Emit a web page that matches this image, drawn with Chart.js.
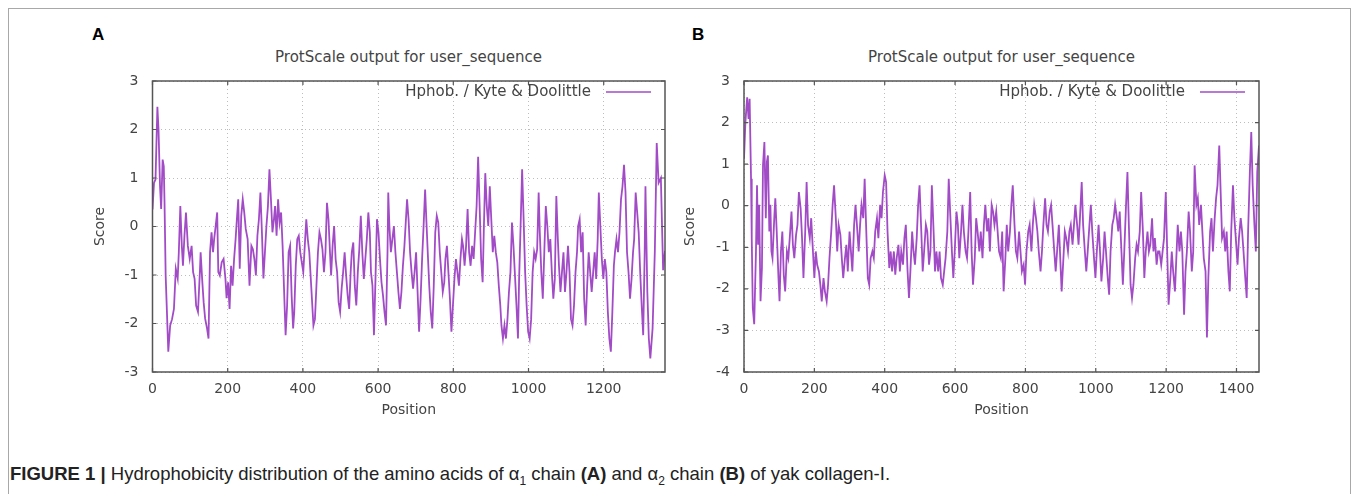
<!DOCTYPE html>
<html>
<head>
<meta charset="utf-8">
<script src="https://cdn.jsdelivr.net/npm/chart.js@4.4.0/dist/chart.umd.min.js"></script>
<style>
  body { margin: 0; background: #fff; width: 1357px; height: 494px; position: relative; overflow: hidden; }
  #frame { position: absolute; left: 8px; top: 8px; width: 1341px; height: 500px; border: 1px solid #a8a8a8; border-bottom: none; }
  .panel { position: absolute; top: 25px; font: bold 17px "Liberation Sans", Arial, sans-serif; color: #000; }
  .ttl { position: absolute; top: 48px; font: 15px "DejaVu Sans", sans-serif; color: #444; text-align: center; white-space: nowrap; }
  canvas { position: absolute; }
  #cap { position: absolute; left: 10px; top: 463px; font: 18.5px "Liberation Sans Narrow", "Liberation Sans", Arial, sans-serif; color: #222; white-space: nowrap; }
  #cap sub { font-size: 12px; }
</style>
</head>
<body>
<div id="frame"></div>
<div class="panel" style="left:92px">A</div>
<div class="panel" style="left:692px">B</div>
<div class="ttl" style="left:152px;width:513px">ProtScale output for user_sequence</div>
<div class="ttl" style="left:744px;width:515px">ProtScale output for user_sequence</div>
<canvas id="chartA" width="625" height="390" style="left:60px;top:40px"></canvas>
<canvas id="chartB" width="635" height="390" style="left:650px;top:40px"></canvas>
<div id="cap"><b>FIGURE 1 |</b> Hydrophobicity distribution of the amino acids of &alpha;<sub>1</sub> chain <b>(A)</b> and &alpha;<sub>2</sub> chain <b>(B)</b> of yak collagen-I.</div>

<script>
// panel A - alpha1 chain, position / score
var posA = [
  0, 4, 8, 13, 16, 20, 23, 27, 30, 32,
  35, 39, 42, 47, 52, 57, 62, 67, 70, 74,
  78, 81, 85, 89, 94, 99, 104, 108, 112, 116,
  121, 126, 128, 132, 136, 140, 145, 149, 153, 157,
  161, 164, 168, 172, 175, 179, 184, 189, 194, 197,
  201, 205, 209, 213, 217, 221, 225, 228, 232, 236,
  240, 244, 248, 253, 258, 263, 267, 271, 275, 279,
  283, 287, 291, 295, 299, 303, 307, 311, 315, 319,
  323, 326, 330, 334, 338, 342, 346, 351, 354, 358,
  362, 366, 370, 374, 377, 381, 385, 389, 393, 397,
  401, 405, 409, 413, 417, 421, 425, 428, 432, 436,
  440, 444, 448, 452, 456, 460, 464, 468, 472, 475,
  479, 483, 487, 491, 495, 499, 503, 507, 511, 515,
  519, 523, 527, 530, 534, 538, 542, 546, 550, 554,
  558, 562, 566, 570, 574, 578, 581, 585, 589, 593,
  597, 601, 605, 609, 613, 617, 621, 625, 627, 630,
  634, 638, 642, 646, 650, 654, 658, 662, 666, 670,
  674, 677, 681, 685, 689, 693, 697, 701, 705, 709,
  713, 717, 721, 725, 729, 732, 736, 740, 744, 748,
  752, 756, 760, 764, 768, 772, 776, 779, 783, 787,
  791, 795, 799, 803, 807, 811, 815, 819, 823, 826,
  830, 834, 838, 842, 846, 850, 854, 858, 862, 866,
  870, 874, 878, 881, 885, 889, 893, 897, 901, 905,
  909, 913, 917, 921, 925, 928, 932, 936, 940, 944,
  948, 952, 956, 960, 964, 968, 972, 975, 979, 983,
  987, 991, 995, 999, 1003, 1007, 1011, 1015, 1019, 1023,
  1027, 1030, 1034, 1038, 1042, 1046, 1050, 1054, 1058, 1062,
  1066, 1070, 1074, 1078, 1081, 1085, 1089, 1093, 1097, 1101,
  1105, 1109, 1113, 1117, 1121, 1125, 1129, 1132, 1136, 1140,
  1144, 1148, 1152, 1156, 1160, 1164, 1168, 1172, 1176, 1180,
  1184, 1187, 1191, 1195, 1199, 1203, 1207, 1211, 1215, 1219,
  1223, 1227, 1230, 1234, 1238, 1242, 1246, 1250, 1254, 1258,
  1262, 1266, 1270, 1274, 1278, 1281, 1285, 1289, 1293, 1297,
  1301, 1305, 1309, 1311, 1316, 1320, 1324, 1330, 1336, 1341,
  1346, 1352, 1358, 1363
];
var scoreA = [
  0.35, 0.9, 0.97, 2.47, 2.0, 0.83, 0.36, 1.38, 1.24, 0.49,
  -1.01, -1.9, -2.58, -2.04, -1.91, -1.7, -0.87, -1.07, -0.53, 0.42,
  -0.4, -0.81, -0.19, 0.29, -0.4, -0.67, -0.4, -0.94, -1.08, -1.63,
  -1.76, -0.94, -0.53, -1.08, -1.56, -1.9, -2.1, -2.31, -0.53, -0.12,
  -0.53, -0.26, 0.01, 0.29, -0.94, -1.01, -0.74, -0.67, -1.08, -1.48,
  -1.15, -1.7, -0.81, -1.22, -0.67, -0.26, 0.22, 0.56, -0.87, 0.22,
  0.56, 0.29, -0.05, -0.26, -1.22, -0.4, -0.47, -0.67, -1.01, -0.19,
  0.15, 0.7, -0.12, -1.07, -0.53, 0.01, 0.42, 1.18, 0.56, -0.12,
  0.15, 0.42, -0.19, 0.56, 0.08, 0.29, -0.4, -1.56, -2.24, -1.63,
  -0.53, -0.4, -1.42, -2.1, -1.76, -0.81, -0.26, -0.19, -0.53, -0.74,
  -0.94, -0.4, 0.15, -0.26, -0.53, -1.08, -1.63, -2.04, -1.91, -1.22,
  -0.53, -0.12, -0.26, -0.47, -0.94, -0.53, 0.49, 0.15, -0.53, -1.01,
  -0.4, 0.01, -0.67, -0.94, -1.56, -1.76, -1.28, -0.94, -0.53, -1.01,
  -1.42, -1.7, -0.94, -0.53, -0.33, -1.22, -1.63, -0.94, -0.47, 0.22,
  -0.53, -1.08, -0.67, -0.26, 0.29, -0.12, -0.94, -1.22, -2.24, -1.08,
  0.15, -0.12, -0.67, -1.15, -1.42, -1.76, -2.04, -0.53, 0.7, 0.01,
  -0.53, -0.26, 0.01, -0.53, -0.94, -1.35, -1.7, -1.35, -0.81, -0.4,
  0.15, 0.56, 0.15, -0.53, -0.94, -1.28, -0.94, -0.53, -1.35, -2.17,
  -1.49, -0.67, 0.01, 0.76, 0.01, -0.53, -1.22, -1.76, -2.1, -1.22,
  -0.12, 0.22, 0.08, -0.53, -0.94, -1.35, -1.15, -0.67, -0.4, -0.94,
  -1.49, -2.17, -1.63, -1.08, -0.67, -0.94, -1.22, -0.67, -0.26, -0.4,
  -0.81, -0.4, 0.36, -0.53, -0.81, -0.4, -0.67, -0.12, 0.42, 1.44,
  0.42, -0.67, -1.15, -0.12, 1.1, 0.42, 0.01, 0.83, 0.15, -0.53,
  -0.19, -0.53, -0.74, -1.22, -1.63, -2.04, -2.31, -2.04, -2.31, -1.91,
  -1.35, -0.94, 0.08, -0.4, -1.01, -1.63, -2.31, -1.08, 0.01, 1.18,
  0.15, -0.94, -1.63, -2.17, -2.31, -1.91, -0.94, -0.53, -0.67, -0.47,
  0.7, -0.12, -0.94, -1.49, -0.53, 0.42, 0.01, -0.53, -0.26, -0.94,
  -1.49, -1.08, 0.63, -0.26, -0.81, -1.35, -0.94, -0.53, -1.35, -0.94,
  -0.4, -0.94, -1.91, -2.04, -1.63, -0.94, -0.53, 0.01, 0.15, -0.53,
  -0.12, -1.49, -2.04, -1.22, -0.53, -0.94, -1.35, -0.94, -0.53, -1.08,
  -0.26, 0.7, 0.01, -0.67, -1.08, -0.67, -0.94, -1.76, -2.31, -2.58,
  -1.76, -0.81, -0.53, -0.26, -0.53, -0.12, 0.56, 0.83, 1.27, 0.7,
  -0.53, -0.94, -1.49, -1.08, -0.53, -0.26, 0.7, 0.29, -0.12, -0.94,
  -1.63, -2.24, -0.53, 0.83, -1.35, -2.31, -2.72, -2.1, -0.5, 1.72,
  0.9, 1.0, -0.9, -0.5
];

// panel B - alpha2 chain
var posB = [
  0, 4, 9, 13, 16, 20, 22, 25, 29, 34,
  37, 40, 43, 47, 51, 54, 58, 62, 65, 68,
  72, 75, 78, 81, 86, 89, 93, 98, 101, 105,
  109, 113, 117, 122, 126, 130, 135, 139, 143, 148,
  152, 156, 161, 165, 169, 174, 178, 182, 187, 191,
  195, 200, 204, 208, 213, 217, 221, 226, 230, 235,
  239, 243, 248, 252, 256, 261, 265, 269, 274, 278,
  282, 287, 291, 295, 300, 304, 308, 313, 317, 321,
  326, 330, 334, 339, 343, 347, 352, 356, 360, 365,
  369, 373, 378, 382, 387, 391, 395, 400, 404, 408,
  413, 417, 421, 426, 430, 434, 439, 443, 447, 452,
  456, 460, 465, 469, 473, 478, 482, 486, 491, 495,
  499, 504, 508, 512, 517, 521, 526, 530, 534, 539,
  543, 547, 552, 556, 560, 565, 569, 573, 578, 582,
  586, 591, 595, 599, 604, 608, 612, 617, 621, 625,
  630, 634, 638, 643, 647, 651, 656, 660, 664, 669,
  673, 678, 682, 686, 691, 695, 699, 704, 708, 712,
  717, 721, 725, 730, 734, 738, 743, 747, 751, 756,
  760, 764, 769, 773, 777, 782, 786, 790, 795, 799,
  803, 808, 812, 817, 821, 825, 830, 834, 838, 843,
  847, 851, 856, 860, 864, 869, 873, 877, 882, 886,
  890, 895, 899, 903, 908, 912, 916, 921, 925, 929,
  934, 938, 942, 947, 951, 955, 960, 964, 969, 973,
  977, 982, 986, 990, 995, 999, 1003, 1008, 1012, 1016,
  1021, 1025, 1029, 1034, 1038, 1042, 1047, 1051, 1055, 1060,
  1064, 1068, 1073, 1077, 1081, 1086, 1090, 1094, 1099, 1103,
  1107, 1112, 1116, 1120, 1125, 1129, 1134, 1138, 1142, 1147,
  1151, 1155, 1160, 1164, 1168, 1173, 1177, 1181, 1186, 1190,
  1194, 1199, 1203, 1207, 1212, 1216, 1220, 1225, 1229, 1233,
  1238, 1242, 1246, 1251, 1255, 1259, 1264, 1268, 1273, 1277,
  1281, 1286, 1290, 1294, 1299, 1303, 1307, 1312, 1316, 1320,
  1325, 1329, 1333, 1338, 1342, 1346, 1351, 1355, 1359, 1364,
  1368, 1372, 1377, 1381, 1385, 1390, 1394, 1398, 1403, 1407,
  1412, 1416, 1420, 1425, 1429, 1433, 1438, 1442, 1446, 1451,
  1455, 1459, 1464
];
var scoreB = [
  1.13, 2.01, 2.61, 2.09, 2.57, 0.65, -0.78, -2.46, -2.85, -1.1,
  0.49, -0.94, 0.02, -2.3, -1.5, 0.97, 1.53, -0.3, 1.05, 1.21,
  -0.62, 0.02, -1.1, -1.26, -0.3, 0.18, -0.62, -1.74, -2.3, -1.1,
  -0.62, -1.66, -2.06, -1.1, -1.26, -0.78, -0.14, -0.94, -1.26, -0.7,
  -0.46, 0.33, -0.06, -0.78, -1.74, -0.62, 0.57, -0.46, -0.78, -0.3,
  -0.94, -1.74, -1.1, -1.42, -1.58, -1.9, -2.3, -1.74, -2.06, -2.3,
  -1.9, -1.26, -0.62, 0.02, 0.49, -0.3, -1.1, -0.46, -0.7, -1.26,
  -1.74, -1.26, -0.94, -1.58, -0.62, -1.1, -1.58, -0.46, 0.02, -0.46,
  -1.1, -0.46, 0.02, -0.3, 0.65, -0.46, -1.74, -1.9, -1.26, -1.1,
  -1.26, -0.62, -0.3, -0.78, 0.02, -0.3, 0.33, 0.73, 0.57, -0.62,
  -1.5, -1.1, -1.58, -1.1, -1.66, -1.26, -0.94, -1.58, -1.1, -1.42,
  -0.78, -0.46, -1.58, -2.22, -1.58, -0.62, -1.1, -1.42, -0.78, 0.02,
  0.49, -0.62, -1.58, -1.1, -0.46, -0.62, -1.42, -1.1, 0.49, -0.62,
  -1.58, -1.1, -1.58, -1.1, -1.74, -1.9, -1.58, -1.26, -0.62, 0.65,
  -0.14, -1.1, -1.74, -1.1, -0.14, -0.46, -1.26, -0.62, 0.02, -0.62,
  -1.1, -1.26, -0.62, 0.33, -1.1, -1.9, -1.26, -0.3, -0.62, -1.1,
  -0.62, -1.26, -0.46, 0.02, -0.62, -0.3, -1.1, 0.02, -0.14, -0.46,
  -0.14, -0.62, -1.1, -1.26, -0.62, -2.06, -1.26, -0.46, -1.1, -0.62,
  0.02, 0.49, -0.46, -1.1, -1.26, -0.62, -1.1, -1.58, -1.42, -1.9,
  -1.1, -0.62, -0.46, -1.1, -0.46, 0.02, -0.3, -0.62, -1.1, -1.58,
  -1.1, -0.46, 0.18, -0.46, -0.62, -0.14, 0.02, -0.46, -1.1, -1.58,
  -1.1, -0.46, -1.26, -2.06, -1.26, -0.62, -0.78, -1.1, -0.62, -0.46,
  -0.94, -0.46, 0.02, -0.46, -0.94, -0.3, 0.57, -0.46, -1.1, -1.58,
  -1.1, -0.46, 0.02, -0.62, -1.26, -1.74, -1.1, -0.46, -1.1, -1.82,
  -1.26, -0.62, -1.1, -1.74, -2.14, -1.1, -0.46, -0.3, 0.02, -0.3,
  -0.62, -0.14, -1.1, -1.9, -1.1, 0.02, 0.81, -0.46, -1.9, -2.22,
  -1.9, -1.26, -0.94, -1.1, -0.62, 0.33, -0.62, -1.74, -1.1, -0.62,
  -1.1, -0.94, -0.3, -1.1, -0.78, -1.42, -1.1, -1.1, -1.42, -1.1,
  -0.78, 0.33, -1.1, -2.38, -1.74, -1.1, -1.58, -2.06, -1.26, -0.46,
  -1.1, -0.62, -1.1, -2.62, -1.58, -1.1, -0.14, -0.62, -1.58, -1.1,
  0.97, 0.02, 0.18, -0.46, 0.02, -0.62, -1.26, -1.58, -3.17, -1.74,
  -0.62, -0.3, -1.1, -0.3, 0.18, 0.49, 1.45, 0.33, -0.78, -0.62,
  -1.1, -0.62, -1.58, -2.06, -0.62, 0.49, -0.3, -0.78, -1.42, -0.78,
  -0.3, -0.62, -1.1, -1.74, -2.22, -0.62, 0.81, 1.77, 0.49, -0.46,
  -1.1, 0.81, 1.45
];

var xTicksA = [0, 200, 400, 600, 800, 1000, 1200];
var xTicksB = [0, 200, 400, 600, 800, 1000, 1200, 1400];
var legendLabel = 'Hphob. / Kyte & Doolittle';
var lineColor = '#a24bc6';

// box round the plot, inner tick marks and the key in the top right corner
var boxAndKey = {
  id: 'boxAndKey',
  afterDatasetsDraw: function (chart) {
    var a = chart.chartArea;
    var ctx = chart.ctx;
    ctx.save();
    ctx.strokeStyle = '#555';
    ctx.lineWidth = 1.2;
    ctx.beginPath();
    chart.scales.x.ticks.forEach(function (t) {
      var px = chart.scales.x.getPixelForValue(t.value);
      ctx.moveTo(px, a.bottom); ctx.lineTo(px, a.bottom - 4);
      ctx.moveTo(px, a.top); ctx.lineTo(px, a.top + 4);
    });
    chart.scales.y.ticks.forEach(function (t) {
      var py = chart.scales.y.getPixelForValue(t.value);
      ctx.moveTo(a.left, py); ctx.lineTo(a.left + 4, py);
      ctx.moveTo(a.right, py); ctx.lineTo(a.right - 4, py);
    });
    ctx.stroke();
    ctx.lineWidth = 1.5;
    ctx.strokeRect(a.left, a.top, a.right - a.left, a.bottom - a.top);

    ctx.font = '15px "DejaVu Sans", sans-serif';
    ctx.fillStyle = '#444';
    ctx.textAlign = 'right';
    ctx.textBaseline = 'middle';
    ctx.fillText(legendLabel, a.right - 74, a.top + 11);
    ctx.strokeStyle = lineColor;
    ctx.lineWidth = 1.6;
    ctx.beginPath();
    ctx.moveTo(a.right - 59, a.top + 11);
    ctx.lineTo(a.right - 14, a.top + 11);
    ctx.stroke();
    ctx.restore();
  }
};

function makeChart(id, pos, score, xMax, xTicks, yMin, yMax, padRight, yWidth) {
  var points = [];
  for (var i = 0; i < Math.min(pos.length, score.length); i++) {
    points.push({ x: pos[i], y: score[i] });
  }
  var tickFont = { family: '"DejaVu Sans", sans-serif', size: 14 };
  return new Chart(document.getElementById(id).getContext('2d'), {
    type: 'line',
    data: {
      datasets: [{
        label: legendLabel,
        data: points,
        borderColor: lineColor,
        borderWidth: 1.8,
        pointRadius: 0,
        tension: 0,
        fill: false
      }]
    },
    options: {
      responsive: false,
      animation: false,
      parsing: false,
      layout: { padding: { left: 30, right: padRight, top: 41, bottom: 0 } },
      plugins: { legend: { display: false }, tooltip: { enabled: false } },
      scales: {
        x: {
          type: 'linear',
          min: 0,
          max: xMax,
          afterBuildTicks: function (s) { s.ticks = xTicks.map(function (v) { return { value: v }; }); },
          ticks: { color: '#444', font: tickFont, padding: 9, maxRotation: 0, autoSkip: false,
                   callback: function (v) { return String(v); } },
          grid: { color: '#bdbdbd', drawTicks: false, lineWidth: 1 },
          border: { display: false, dash: [1, 3] },
          title: { display: true, text: 'Position', color: '#444', font: tickFont, padding: { top: 0, bottom: 11 } },
          afterFit: function (s) { s.height = 58; }
        },
        y: {
          min: yMin,
          max: yMax,
          ticks: { stepSize: 1, color: '#444', font: tickFont, padding: 14,
                   callback: function (v) { return String(v); } },
          grid: { color: '#bdbdbd', drawTicks: false, lineWidth: 1 },
          border: { display: false, dash: [1, 3] },
          title: { display: true, text: 'Score', color: '#444', font: tickFont, padding: { top: 2, bottom: 0 } },
          afterFit: function (s) { s.width = yWidth; }
        }
      }
    },
    plugins: [boxAndKey]
  });
}

makeChart('chartA', posA, scoreA, 1363, xTicksA, -3, 3, 20, 62.5);
makeChart('chartB', posB, scoreB, 1464, xTicksB, -4, 3, 26, 64);
</script>
</body>
</html>
